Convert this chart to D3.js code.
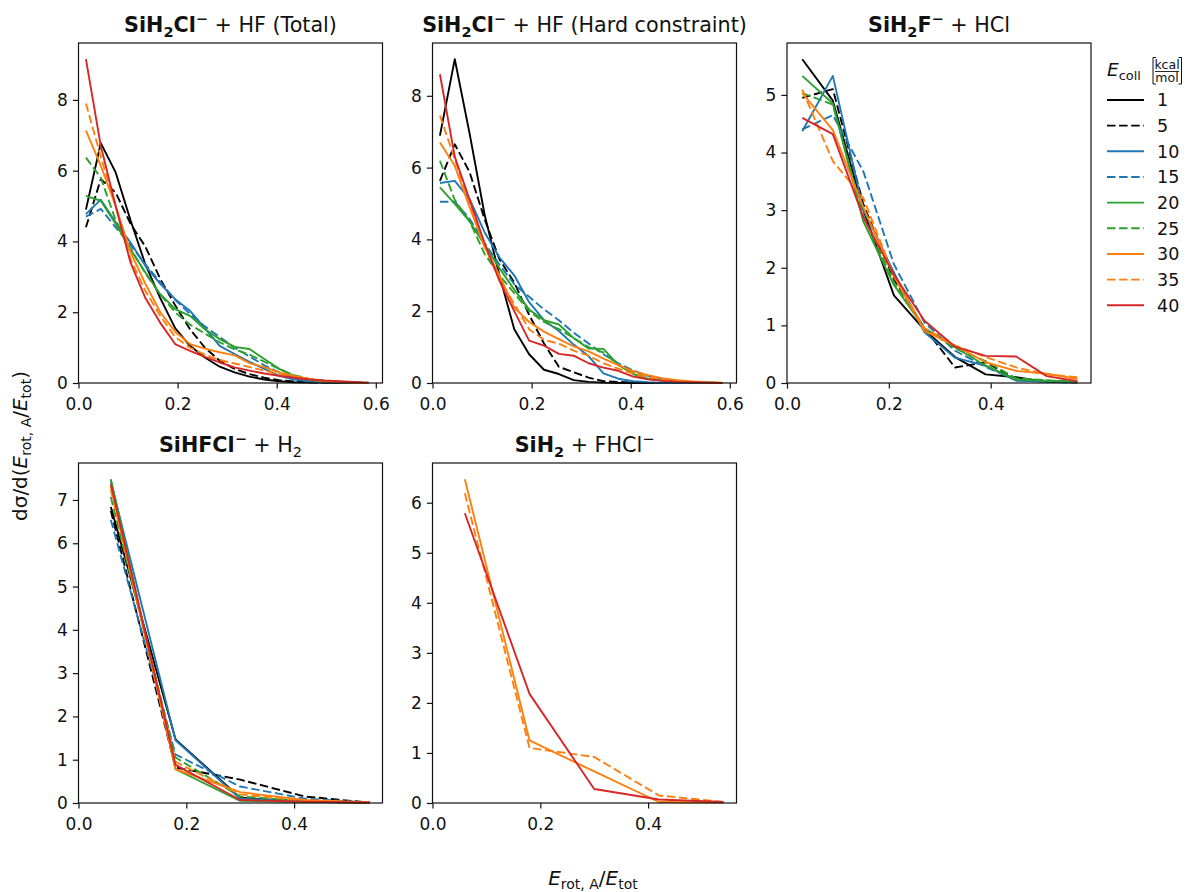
<!DOCTYPE html>
<html>
<head>
<meta charset="utf-8">
<script src="https://cdn.jsdelivr.net/npm/d3@7"></script>
<style>
  body { margin: 0; background: #fff; }
  text { font-family: "DejaVu Sans", sans-serif; fill: #111; }
</style>
</head>
<body>
<svg id="chart" width="1186" height="892"></svg>
<script>
// Collision energies (kcal/mol), one curve per energy
const energies = [1, 5, 10, 15, 20, 25, 30, 35, 40];
const lineColors = ["#000000", "#000000", "#1f77b4", "#1f77b4", "#2ca02c", "#2ca02c", "#ff7f0e", "#ff7f0e", "#d62728"];
const lineDashed = [false, true, false, true, false, true, false, true, false];

// Bin centres of E_rot,A/E_tot
const xFine = [0.015, 0.045, 0.075, 0.105, 0.135, 0.165, 0.195, 0.225, 0.255, 0.285,
               0.315, 0.345, 0.375, 0.405, 0.435, 0.465, 0.495, 0.525, 0.555, 0.585];
const xMedium = [0.03, 0.09, 0.15, 0.21, 0.27, 0.33, 0.39, 0.45, 0.51, 0.57];
const xCoarse = [0.06, 0.18, 0.30, 0.42, 0.54];

// SiH2Cl- + HF (Total), rows follow energies
const totalSeries = [
  [4.9, 6.78, 5.95, 4.6, 3.35, 2.4, 1.55, 1.05, 0.72, 0.46, 0.3, 0.18, 0.1, 0.05, 0.02, 0.01, 0.01, 0, 0, 0],
  [4.4, 5.76, 5.38, 4.5, 3.85, 2.94, 2.2, 1.52, 1.0, 0.63, 0.4, 0.25, 0.15, 0.08, 0.04, 0.02, 0.01, 0, 0, 0],
  [4.77, 5.18, 4.54, 3.97, 3.31, 2.8, 2.37, 2.04, 1.55, 1.05, 0.82, 0.6, 0.4, 0.2, 0.1, 0.05, 0.02, 0.01, 0, 0],
  [4.7, 4.92, 4.4, 3.9, 3.35, 2.85, 2.35, 1.95, 1.6, 1.3, 1.0, 0.75, 0.5, 0.3, 0.15, 0.08, 0.04, 0.02, 0.01, 0],
  [5.29, 5.15, 4.5, 3.78, 3.12, 2.51, 2.09, 1.9, 1.52, 1.24, 1.02, 0.96, 0.68, 0.4, 0.2, 0.1, 0.04, 0.02, 0.01, 0],
  [6.37, 5.8, 4.6, 3.8, 3.1, 2.5, 2.0, 1.65, 1.4, 1.15, 0.95, 0.8, 0.6, 0.4, 0.22, 0.12, 0.07, 0.04, 0.02, 0.01],
  [7.13, 6.14, 5.0, 3.7, 2.8, 2.0, 1.45, 1.1, 0.97, 0.87, 0.78, 0.56, 0.45, 0.3, 0.2, 0.12, 0.06, 0.03, 0.01, 0],
  [7.9, 6.4, 5.0, 3.5, 2.6, 1.9, 1.3, 1.0, 0.8, 0.65, 0.55, 0.45, 0.35, 0.25, 0.17, 0.1, 0.06, 0.03, 0.01, 0],
  [9.15, 6.7, 5.0, 3.4, 2.4, 1.7, 1.1, 0.91, 0.74, 0.58, 0.44, 0.35, 0.27, 0.2, 0.15, 0.1, 0.07, 0.05, 0.03, 0.01]
];

// SiH2Cl- + HF (Hard constraint)
const hardSeries = [
  [6.89, 9.02, 6.94, 4.7, 3.0, 1.5, 0.8, 0.37, 0.25, 0.08, 0.03, 0.01, 0, 0, 0, 0, 0, 0, 0, 0],
  [5.63, 6.65, 5.87, 4.57, 3.45, 2.8, 1.9, 1.1, 0.45, 0.3, 0.15, 0.05, 0.03, 0.01, 0, 0, 0, 0, 0, 0],
  [5.57, 5.63, 5.12, 4.2, 3.5, 3.0, 2.25, 1.75, 1.45, 1.07, 0.75, 0.27, 0.12, 0.05, 0.02, 0, 0, 0, 0, 0],
  [5.05, 5.05, 4.57, 3.9, 3.3, 2.75, 2.4, 2.05, 1.75, 1.4, 1.1, 0.8, 0.55, 0.35, 0.2, 0.1, 0.05, 0.02, 0.01, 0],
  [5.45, 4.99, 4.5, 3.85, 3.2, 2.6, 2.05, 1.75, 1.63, 1.25, 0.96, 0.95, 0.5, 0.25, 0.12, 0.06, 0.03, 0.02, 0.01, 0],
  [6.19, 5.1, 4.5, 3.6, 3.0, 2.5, 2.0, 1.7, 1.5, 1.25, 1.0, 0.85, 0.5, 0.3, 0.15, 0.08, 0.04, 0.02, 0.01, 0],
  [6.7, 6.05, 4.9, 3.8, 3.0, 2.1, 1.7, 1.43, 1.22, 1.02, 0.88, 0.68, 0.5, 0.33, 0.22, 0.13, 0.08, 0.04, 0.02, 0.01],
  [7.45, 6.24, 5.0, 3.8, 2.9, 2.2, 1.5, 1.2, 1.1, 0.9, 0.76, 0.55, 0.4, 0.26, 0.16, 0.09, 0.05, 0.02, 0.01, 0],
  [8.6, 6.3, 5.1, 3.9, 2.85, 2.0, 1.18, 1.04, 0.81, 0.76, 0.55, 0.43, 0.34, 0.18, 0.1, 0.06, 0.03, 0.02, 0.01, 0]
];

// SiH2F- + HCl
const fluorideSeries = [
  [5.62, 4.9, 3.0, 1.52, 0.92, 0.45, 0.15, 0.1, 0.02, 0.01],
  [4.95, 5.1, 3.1, 1.8, 0.95, 0.27, 0.36, 0.07, 0.02, 0.01],
  [4.37, 5.33, 3.0, 1.92, 0.88, 0.44, 0.3, 0.04, 0.03, 0.01],
  [4.4, 4.65, 3.67, 2.06, 1.05, 0.56, 0.28, 0.05, 0.02, 0.01],
  [5.33, 4.85, 2.8, 1.7, 0.95, 0.62, 0.3, 0.06, 0.04, 0.02],
  [5.03, 4.83, 2.9, 1.75, 0.95, 0.6, 0.38, 0.08, 0.05, 0.02],
  [5.03, 4.39, 3.05, 1.85, 0.9, 0.65, 0.36, 0.21, 0.16, 0.07],
  [5.09, 3.85, 3.21, 1.85, 0.95, 0.65, 0.45, 0.27, 0.15, 0.1],
  [4.6, 4.32, 2.87, 1.88, 1.08, 0.63, 0.47, 0.46, 0.12, 0.03]
];

// SiHFCl- + H2
const hydrogenSeries = [
  [6.84, 1.47, 0.12, 0.03, 0.01],
  [6.75, 0.82, 0.54, 0.15, 0.01],
  [7.43, 1.45, 0.1, 0.03, 0.01],
  [6.54, 1.12, 0.38, 0.1, 0.01],
  [7.48, 0.78, 0.05, 0.02, 0.01],
  [7.07, 1.05, 0.15, 0.05, 0.01],
  [7.31, 0.78, 0.25, 0.07, 0.01],
  [7.23, 0.95, 0.2, 0.05, 0.01],
  [7.37, 0.88, 0.07, 0.03, 0.01]
];

// SiH2 + FHCl- (only the three highest energies)
const silyleneEnergies = [30, 35, 40];
const silyleneSeries = [
  [6.47, 1.25, 0.63, 0.02, 0.01],
  [6.19, 1.1, 0.92, 0.15, 0.02],
  [5.79, 2.18, 0.28, 0.07, 0.02]
];

// Tick values
const xTicksWide = [0, 0.2, 0.4, 0.6];
const xTicksNarrow = [0, 0.2, 0.4];
const yTicksTotal = [0, 2, 4, 6, 8];
const yTicksFluoride = [0, 1, 2, 3, 4, 5];
const yTicksHydrogen = [0, 1, 2, 3, 4, 5, 6, 7];
const yTicksSilylene = [0, 1, 2, 3, 4, 5, 6];

// Layout
const panelW = 304, panelH = 340;
const colX = [78.5, 432.5, 787];
const rowY = [43, 463];
const lineW = 1.9;
const dash = "8.5,3.6";
const tickFont = 17;

const svg = d3.select("#chart");

// Writes mixed bold / italic / sub / superscript runs into one text element
function richText(sel, parts, size) {
  let shift = 0;
  parts.forEach(p => {
    const target = p.pos === "sub" ? size * 0.22 : p.pos === "sup" ? -size * 0.4 : 0;
    sel.append("tspan")
      .attr("dy", target - shift)
      .attr("font-size", p.pos ? size * 0.7 : size)
      .attr("font-weight", p.b ? "bold" : "normal")
      .attr("font-style", p.i ? "italic" : "normal")
      .text(p.s);
    shift = target;
  });
}

const panels = [
  { col: 0, row: 0, xs: xFine, series: totalSeries, keys: energies, xTicks: xTicksWide, yTicks: yTicksTotal,
    title: [{s: "SiH", b: 1}, {s: "2", b: 1, pos: "sub"}, {s: "Cl", b: 1}, {s: "\u2212", b: 1, pos: "sup"}, {s: " + HF (Total)"}] },
  { col: 1, row: 0, xs: xFine, series: hardSeries, keys: energies, xTicks: xTicksWide, yTicks: yTicksTotal,
    title: [{s: "SiH", b: 1}, {s: "2", b: 1, pos: "sub"}, {s: "Cl", b: 1}, {s: "\u2212", b: 1, pos: "sup"}, {s: " + HF (Hard constraint)"}] },
  { col: 2, row: 0, xs: xMedium, series: fluorideSeries, keys: energies, xTicks: xTicksNarrow, yTicks: yTicksFluoride,
    title: [{s: "SiH", b: 1}, {s: "2", b: 1, pos: "sub"}, {s: "F", b: 1}, {s: "\u2212", b: 1, pos: "sup"}, {s: " + HCl"}] },
  { col: 0, row: 1, xs: xCoarse, series: hydrogenSeries, keys: energies, xTicks: xTicksNarrow, yTicks: yTicksHydrogen,
    title: [{s: "SiHFCl", b: 1}, {s: "\u2212", b: 1, pos: "sup"}, {s: " + H"}, {s: "2", pos: "sub"}] },
  { col: 1, row: 1, xs: xCoarse, series: silyleneSeries, keys: silyleneEnergies, xTicks: xTicksNarrow, yTicks: yTicksSilylene,
    title: [{s: "SiH", b: 1}, {s: "2", b: 1, pos: "sub"}, {s: " + FHCl"}, {s: "\u2212", pos: "sup"}] }
];

panels.forEach(p => {
  const g = svg.append("g")
    .attr("transform", `translate(${colX[p.col]},${rowY[p.row]})`);

  // matplotlib-like limits: x starts at 0, y starts at 0, 5% margin on top
  const [xMin, xMax] = d3.extent(p.xs);
  const x = d3.scaleLinear()
    .domain([0, xMax + 0.05 * (xMax - xMin)])
    .range([0, panelW]);
  const yMax = d3.max(p.series, s => d3.max(s));
  const y = d3.scaleLinear()
    .domain([0, yMax * 1.05])
    .range([panelH, 0]);

  const line = d3.line()
    .x((d, i) => x(p.xs[i]))
    .y(d => y(d));

  p.series.forEach((s, k) => {
    const e = energies.indexOf(p.keys[k]);
    g.append("path")
      .attr("d", line(s))
      .attr("fill", "none")
      .attr("stroke", lineColors[e])
      .attr("stroke-width", lineW)
      .attr("stroke-linejoin", "round")
      .attr("stroke-dasharray", lineDashed[e] ? dash : null);
  });

  // axes
  g.append("g")
    .attr("transform", `translate(0,${panelH})`)
    .call(d3.axisBottom(x).tickValues(p.xTicks).tickFormat(d3.format(".1f")).tickSize(5.6).tickPadding(9))
    .call(a => a.select(".domain").remove())
    .attr("font-size", tickFont)
    .attr("font-family", null)
    .attr("color", "#111")
    .call(a => a.selectAll("line").attr("stroke-width", 1.2));

  g.append("g")
    .call(d3.axisLeft(y).tickValues(p.yTicks).tickFormat(d3.format("d")).tickSize(5.6).tickPadding(5))
    .call(a => a.select(".domain").remove())
    .attr("font-size", tickFont)
    .attr("font-family", null)
    .attr("color", "#111")
    .call(a => a.selectAll("line").attr("stroke-width", 1.2));

  g.append("rect")
    .attr("width", panelW)
    .attr("height", panelH)
    .attr("fill", "none")
    .attr("stroke", "#111")
    .attr("stroke-width", 1.2);

  const t = g.append("text")
    .attr("x", panelW / 2)
    .attr("y", -11)
    .attr("text-anchor", "middle");
  richText(t, p.title, 20.7);
});

// shared axis labels
const xl = svg.append("text")
  .attr("x", 593)
  .attr("y", 885)
  .attr("text-anchor", "middle");
richText(xl, [{s: "E", i: 1}, {s: "rot, A", pos: "sub"}, {s: "/"}, {s: "E", i: 1}, {s: "tot", pos: "sub"}], 20);

const yl = svg.append("text")
  .attr("transform", "translate(27,446) rotate(-90)")
  .attr("text-anchor", "middle");
richText(yl, [{s: "d\u03c3/d("}, {s: "E", i: 1}, {s: "rot, A", pos: "sub"}, {s: "/"}, {s: "E", i: 1}, {s: "tot", pos: "sub"}, {s: ")"}], 20);

// legend
const legend = svg.append("g").attr("transform", "translate(1107,0)");

const lt = legend.append("text").attr("x", 0).attr("y", 76);
richText(lt, [{s: "E", i: 1}, {s: "coll", pos: "sub"}], 18.5);

// [kcal/mol] fraction
const frac = legend.append("g").attr("transform", "translate(56,0)");
frac.append("path")
  .attr("d", "M-7,57.5 h-3 v26.5 h3 M15.5,57.5 h3 v26.5 h-3")
  .attr("fill", "none")
  .attr("stroke", "#111")
  .attr("stroke-width", 1);
frac.append("text").attr("x", 4).attr("y", 68.5).attr("text-anchor", "middle").attr("font-size", 12.5).text("kcal");
frac.append("line").attr("x1", -8).attr("x2", 16).attr("y1", 71.5).attr("y2", 71.5)
  .attr("stroke", "#111").attr("stroke-width", 0.9);
frac.append("text").attr("x", 4).attr("y", 82).attr("text-anchor", "middle").attr("font-size", 12.5).text("mol");

const rows = legend.selectAll("g.entry")
  .data(energies)
  .enter()
  .append("g")
  .attr("class", "entry")
  .attr("transform", (d, i) => `translate(0,${100 + i * 25.66})`);

rows.append("line")
  .attr("x1", 0)
  .attr("x2", 37)
  .attr("stroke", (d, i) => lineColors[i])
  .attr("stroke-width", lineW)
  .attr("stroke-dasharray", (d, i) => lineDashed[i] ? dash : null);

rows.append("text")
  .attr("x", 50)
  .attr("dy", "0.36em")
  .attr("font-size", 17.5)
  .text(d => d);
</script>
</body>
</html>
